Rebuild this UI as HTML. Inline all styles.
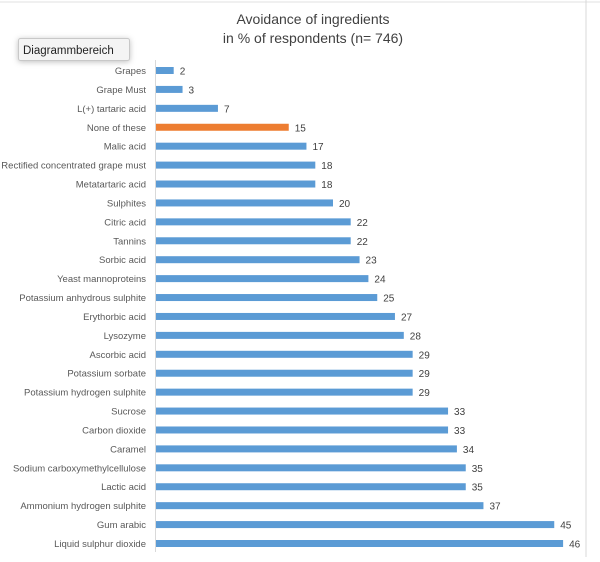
<!DOCTYPE html>
<html><head><meta charset="utf-8"><style>
body{margin:0;background:#fff;width:600px;height:557px;overflow:hidden;font-family:"Liberation Sans",sans-serif;}
</style></head><body>
<svg width="600" height="557" xmlns="http://www.w3.org/2000/svg">
<line x1="0" y1="2" x2="600" y2="2" stroke="#e0e0e0"/>
<line x1="586" y1="0" x2="586" y2="557" stroke="#d9d9d9"/>
<text x="313" y="24" text-anchor="middle" font-size="14" fill="#404040">Avoidance of ingredients</text>
<text x="313" y="43" text-anchor="middle" font-size="14" fill="#404040">in % of respondents (n= 746)</text>
<g>
<rect x="18.5" y="38.5" width="111" height="22" rx="2" fill="#f4f4f4" stroke="#c8c8c8" style="filter:drop-shadow(0 1px 3px rgba(0,0,0,.25))"/>
<text x="23" y="54" font-size="11.5" fill="#222">Diagrammbereich</text>
</g>
<line x1="155.5" y1="60" x2="155.5" y2="552" stroke="#d9d9d9"/>
<g id="bars"></g>
</svg>
<script>
const categories=["Grapes","Grape Must","L(+) tartaric acid","None of these","Malic acid","Rectified concentrated grape must","Metatartaric acid","Sulphites","Citric acid","Tannins","Sorbic acid","Yeast mannoproteins","Potassium anhydrous sulphite","Erythorbic acid","Lysozyme","Ascorbic acid","Potassium sorbate","Potassium hydrogen sulphite","Sucrose","Carbon dioxide","Caramel","Sodium carboxymethylcellulose","Lactic acid","Ammonium hydrogen sulphite","Gum arabic","Liquid sulphur dioxide"];
const values=[2,3,7,15,17,18,18,20,22,22,23,24,25,27,28,29,29,29,33,33,34,35,35,37,45,46];
const highlight=["None of these"];
const NS="http://www.w3.org/2000/svg";
const g=document.getElementById("bars");
const x0=156, k=8.85;
const xScale=v=>x0+v*k;
const yScale=i=>70.5+i*18.92;
function mk(t,a){const e=document.createElementNS(NS,t);for(const n in a)e.setAttribute(n,a[n]);return e;}
categories.forEach((c,i)=>{
 const y=yScale(i);
 const r=mk("rect",{x:x0,y:y-3.5,width:xScale(values[i])-x0,height:7,fill:highlight.includes(c)?"#ed7d31":"#5b9bd5"});
 
 
 g.appendChild(r);
 const l=mk("text",{x:146,y:y+3.5,"text-anchor":"end","font-size":"9.5",fill:"#595959"});
 l.textContent=c;
 
 
 g.appendChild(l);
 const v=mk("text",{x:xScale(values[i])+6,y:y+4,"font-size":"10",fill:"#404040"});
 v.textContent=values[i];
 
 
 g.appendChild(v);
});
</script>
</body></html>
